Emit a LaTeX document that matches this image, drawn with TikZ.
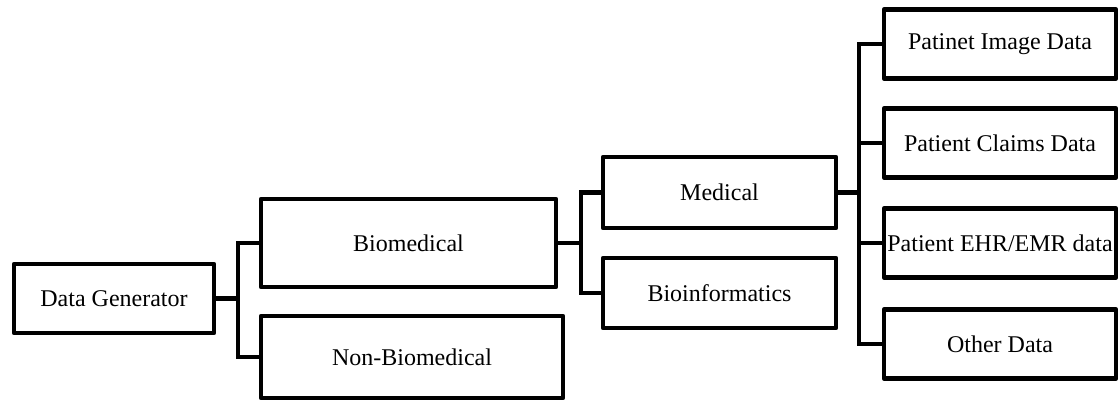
\documentclass[tikz,border=0pt]{standalone}
\usepackage{fontspec}
\setmainfont{Liberation Serif}
\begin{document}
\begin{tikzpicture}[x=1pt,y=-1pt,
  box/.style={draw=black,line width=4.5pt,line join=round,rectangle,inner sep=0pt,
    align=center,font=\fontsize{24}{28}\selectfont},
  link/.style={draw=black,line width=4.5pt,line join=miter}]
\useasboundingbox (0,0) rectangle (1120,402);
% tree nodes
\node[box,minimum width=200pt,minimum height=69pt] (dg) at (114,298.5) {Data Generator};
\node[box,minimum width=295pt,minimum height=88pt] (bio) at (408.5,243) {Biomedical};
\node[box,minimum width=302pt,minimum height=82pt] (non) at (412,357) {Non-Biomedical};
\node[box,minimum width=233pt,minimum height=71pt] (med) at (719.5,192.5) {Medical};
\node[box,minimum width=233pt,minimum height=70pt] (binf) at (719.5,293) {Bioinformatics};
\node[box,minimum width=232pt,minimum height=69pt] (img) at (1000,44) {Patinet Image Data};
\node[box,minimum width=232pt,minimum height=69pt] (clm) at (1000,143) {Patient Claims Data};
\node[box,minimum width=232pt,minimum height=69pt] (ehr) at (1000,243) {Patient EHR/EMR data};
\node[box,minimum width=232pt,minimum height=69pt] (oth) at (1000,344) {Other Data};
% branch lines
\coordinate (j1) at (238,0);
\coordinate (j2) at (581,0);
\coordinate (j3) at (859,0);
\draw[link] (dg.east) -- (dg.east -| j1);
\draw[link] (bio.west) -- (bio.west -| j1) -- (non.west -| j1) -- (non.west);
\draw[link] (bio.east) -- (bio.east -| j2);
\draw[link] (med.west) -- (med.west -| j2) -- (binf.west -| j2) -- (binf.west);
\draw[link] (med.east) -- (med.east -| j3);
\draw[link] (img.west) -- (img.west -| j3) -- (oth.west -| j3) -- (oth.west);
\draw[link] (clm.west -| j3) -- (clm.west);
\draw[link] (ehr.west -| j3) -- (ehr.west);
\end{tikzpicture}
\end{document}
